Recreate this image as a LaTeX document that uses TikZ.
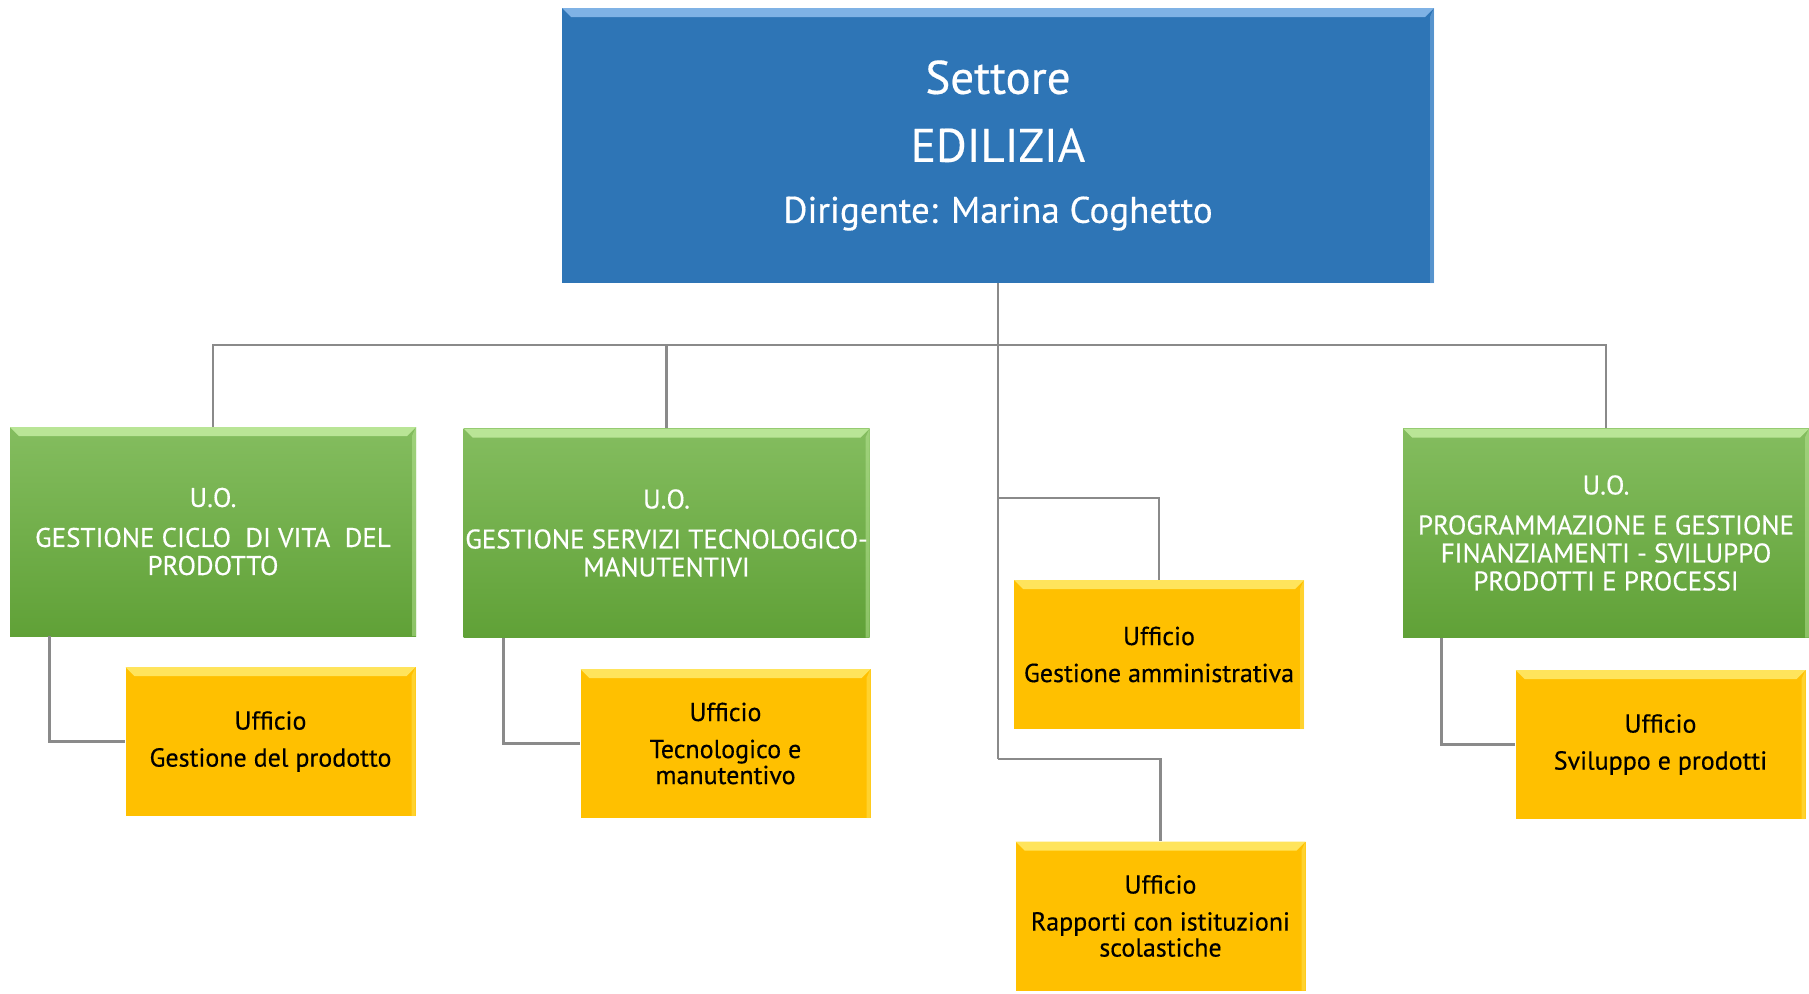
\documentclass[tikz,border=0pt]{standalone}
\usepackage{fontspec}
\setmainfont{PT Sans}[FakeBold=0.4]
\usetikzlibrary{calc}
\definecolor{bluebox}{HTML}{2E75B6}
\definecolor{bluetop}{HTML}{7FB2E5}
\definecolor{greentop}{HTML}{84BD5F}
\definecolor{greenbot}{HTML}{60A137}
\definecolor{greenband}{HTML}{B9E596}
\definecolor{yellowbox}{HTML}{FFC000}
\definecolor{yellowband}{HTML}{FFE45C}
\definecolor{linegray}{HTML}{8A8A8A}
\tikzset{
  bevel/.style={path picture={
    \fill[#1] (path picture bounding box.north west) -- (path picture bounding box.north east)
      -- ([xshift=-9pt,yshift=-9pt]path picture bounding box.north east)
      -- ([xshift=9pt,yshift=-9pt]path picture bounding box.north west) -- cycle;
    \fill[#1,opacity=0.5] (path picture bounding box.north east) -- (path picture bounding box.south east)
      -- ([xshift=-4pt]path picture bounding box.south east) -- ([xshift=-4pt,yshift=-9pt]path picture bounding box.north east) -- cycle;
  }},
  topbox/.style={rectangle, inner sep=0pt, fill=bluebox, bevel=bluetop, text=white, align=center,
    minimum width=872pt, minimum height=275pt},
  uobox/.style={rectangle, inner sep=0pt, top color=greentop, bottom color=greenbot, bevel=greenband,
    text=white, align=center, minimum width=406pt, minimum height=209pt,
    font=\fontsize{27}{28}\selectfont},
  ufbox/.style={rectangle, inner sep=0pt, fill=yellowbox, bevel=yellowband, text=black, align=center,
    minimum width=290pt, minimum height=149pt, font=\fontsize{26}{26}\selectfont},
  conn/.style={draw=linegray, line width=2.8pt}
}
\begin{document}
\begin{tikzpicture}[x=1pt,y=-1pt]
\useasboundingbox (0,0) rectangle (1809,993);
\coordinate (bus) at (998,345);
\coordinate (b1) at (998,498);
\coordinate (b2) at (998,759);
\node[topbox, font=\fontsize{47}{61}\selectfont] (top) at (998,145.5)
  {Settore\\[7pt]EDILIZIA\\{\fontsize{37}{40}\selectfont Dirigente: Marina Coghetto}};
\node[uobox] (uo1) at (213,531.5) {U.O.\\[12pt]GESTIONE CICLO~ DI VITA~ DEL\\PRODOTTO};
\node[uobox] (uo2) at (666.5,533) {U.O.\\[12pt]GESTIONE SERVIZI TECNOLOGICO-\\MANUTENTIVI};
\node[uobox] (uo3) at (1606,533) {U.O.\\[12pt]PROGRAMMAZIONE E GESTIONE\\FINANZIAMENTI - SVILUPPO\\PRODOTTI E PROCESSI};
\node[ufbox] (ga) at (1159,654.5) {Ufficio\\[11pt]Gestione amministrativa};
\node[ufbox] (rap) at (1160.5,916) {Ufficio\\[11pt]Rapporti con istituzioni\\scolastiche};
\node[ufbox] (gp) at (270.5,741.5) {Ufficio\\[11pt]Gestione del prodotto};
\node[ufbox] (tm) at (725.5,743.5) {Ufficio\\[11pt]Tecnologico e\\manutentivo};
\node[ufbox] (sp) at (1660.5,744.5) {Ufficio\\[11pt]Sviluppo e prodotti};
\draw[conn] (top.south) -- (bus);
\draw[conn] (bus) -| (uo1.north);
\draw[conn] (bus) -| (uo2.north);
\draw[conn] (bus) -| (uo3.north);
\draw[conn] (bus) -- (b2);
\draw[conn] (b1) -| (ga.north);
\draw[conn] (b2) -| (rap.north);
\draw[conn] ([xshift=40pt]uo1.south west) |- (gp.west);
\draw[conn] ([xshift=40pt]uo2.south west) |- (tm.west);
\draw[conn] ([xshift=39pt]uo3.south west) |- (sp.west);
\end{tikzpicture}
\end{document}
